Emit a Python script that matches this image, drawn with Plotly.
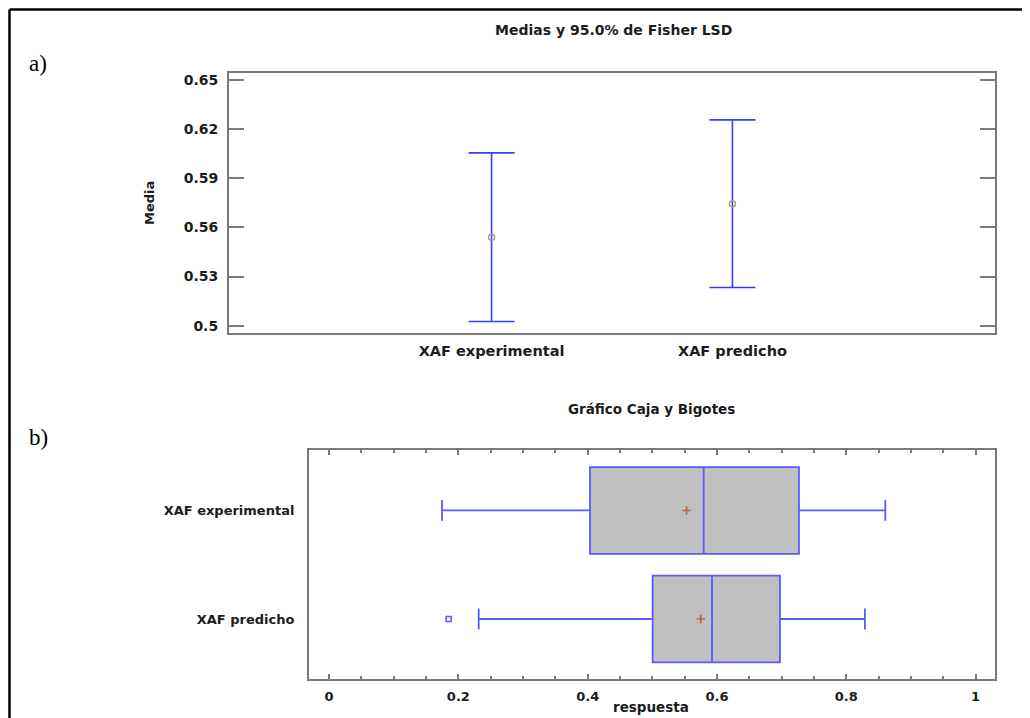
import plotly.graph_objects as go

# ---- data: panel a) Fisher LSD means ----
groups = ["XAF experimental", "XAF predicho"]
means = [0.554, 0.5745]
lsd_half = [0.0515, 0.0512]
y_ticks_a = [0.5, 0.53, 0.56, 0.59, 0.62, 0.65]
y_ticklabels_a = ["0.5", "0.53", "0.56", "0.59", "0.62", "0.65"]

# ---- data: panel b) box and whiskers ----
box_groups = ["XAF experimental", "XAF predicho"]
q1 = [0.4036, 0.5005]
median = [0.5794, 0.5923]
q3 = [0.7268, 0.6974]
lower_whisker = [0.1747, 0.2315]
upper_whisker = [0.8603, 0.8288]
box_means = [0.5529, 0.5749]
outlier_group = ["XAF predicho"]
outlier_values = [0.185]
x_ticks_b = [0, 0.2, 0.4, 0.6, 0.8, 1]
x_ticklabels_b = ["0", "0.2", "0.4", "0.6", "0.8", "1"]

FONT = "DejaVu Sans"
TXT = "#1c1c1c"
AXC = "#7a7a7a"
BLUE = "#3b3bff"
BOXBLUE = "#5a5aff"

# page has an 8px body margin; figure sized to fit the window
OFF = 8
W, H = 1022, 710
def px(x): return (x - OFF) / W
def py(y): return 1 - (y - OFF) / H

fig = go.Figure()

# panel a
fig.add_trace(go.Scatter(
    x=groups, y=means, mode="markers",
    marker=dict(symbol="circle-open", size=6, color="#a3a376", line=dict(width=1.5)),
    error_y=dict(type="data", array=lsd_half, visible=True, color=BLUE, thickness=1.6, width=23),
    xaxis="x", yaxis="y", showlegend=False, hoverinfo="x+y"))

# panel b
for g, a, m, b, lo, hi in zip(box_groups, q1, median, q3, lower_whisker, upper_whisker):
    fig.add_trace(go.Box(
        y=[g], q1=[a], median=[m], q3=[b], lowerfence=[lo], upperfence=[hi],
        orientation="h", xaxis="x2", yaxis="y2", showlegend=False,
        fillcolor="#c0c0c0", line=dict(color=BOXBLUE, width=1.8),
        whiskerwidth=0.24, width=0.8, boxpoints=False))

fig.add_trace(go.Scatter(
    x=box_means, y=box_groups, mode="markers", xaxis="x2", yaxis="y2",
    marker=dict(symbol="cross-thin", size=6, line=dict(width=1.6, color="#b5643c")),
    showlegend=False))
fig.add_trace(go.Scatter(
    x=outlier_values, y=outlier_group, mode="markers", xaxis="x2", yaxis="y2",
    marker=dict(symbol="square-open", size=5, color=BOXBLUE, line=dict(width=1.5)),
    showlegend=False))

tickfont = dict(family=FONT, size=14, color=TXT, weight="bold")
tickfont_b = dict(family=FONT, size=13, color=TXT, weight="bold")

fig.update_layout(
    width=W, height=H,
    margin=dict(l=0, r=0, t=0, b=0),
    paper_bgcolor="white", plot_bgcolor="white",
    xaxis=dict(domain=[px(229), px(995)], anchor="y", type="category",
               range=[-1.09, 2.09], showline=True, mirror=True, linecolor=AXC, linewidth=2,
               ticks="", showgrid=False, zeroline=False, tickfont=dict(family=FONT, size=14.5, color=TXT, weight="bold"),
               ticklabelstandoff=4, automargin=False, fixedrange=True),
    yaxis=dict(domain=[py(333), py(73)], anchor="x", range=[0.4955, 0.6543],
               tickvals=y_ticks_a, ticktext=y_ticklabels_a,
               showline=True, mirror="ticks", linecolor=AXC, linewidth=2,
               ticks="inside", ticklen=15, tickwidth=2, tickcolor=AXC,
               showgrid=False, zeroline=False, tickfont=tickfont,
               ticklabelstandoff=6, automargin=False),
    xaxis2=dict(domain=[px(309), px(995)], anchor="y2", range=[-0.031, 1.030],
                tickvals=x_ticks_b, ticktext=x_ticklabels_b,
                showline=True, mirror="ticks", linecolor=AXC, linewidth=2,
                ticks="inside", ticklen=5, tickwidth=1.5, tickcolor=AXC,
                minor=dict(dtick=0.05, ticks="inside", ticklen=3, tickwidth=1.5, tickcolor=AXC),
                showgrid=False, zeroline=False, tickfont=tickfont_b,
                ticklabelstandoff=4, automargin=False),
    yaxis2=dict(domain=[py(679), py(450)], anchor="x2", type="category",
                categoryorder="array", categoryarray=["XAF predicho", "XAF experimental"],
                range=[-0.553, 1.557], showline=True, mirror=True, linecolor=AXC, linewidth=2,
                ticks="", showgrid=False, zeroline=False, tickfont=tickfont_b,
                ticklabelstandoff=10, automargin=False),
    shapes=[
        dict(type="line", xref="paper", yref="paper",
             x0=px(9.5), x1=px(9.5), y0=0, y1=py(9.5),
             line=dict(color="black", width=2.5)),
        dict(type="line", xref="paper", yref="paper",
             x0=px(9.5), x1=1, y0=py(9.5), y1=py(9.5),
             line=dict(color="black", width=2.5)),
    ],
    annotations=[
        dict(text="Medias y 95.0% de Fisher LSD", x=px(613), y=py(30), xref="paper", yref="paper",
             showarrow=False, font=dict(family=FONT, size=14, color=TXT, weight="bold"),
             xanchor="center", yanchor="middle"),
        dict(text="Gráfico Caja y Bigotes", x=px(651), y=py(409), xref="paper", yref="paper",
             showarrow=False, font=dict(family=FONT, size=13.5, color=TXT, weight="bold"),
             xanchor="center", yanchor="middle"),
        dict(text="Media", x=px(149), y=py(203), xref="paper", yref="paper", textangle=-90,
             showarrow=False, font=dict(family=FONT, size=13, color=TXT, weight="bold"),
             xanchor="center", yanchor="middle"),
        dict(text="respuesta", x=px(651), y=py(707), xref="paper", yref="paper",
             showarrow=False, font=dict(family=FONT, size=13.5, color=TXT, weight="bold"),
             xanchor="center", yanchor="middle"),
        dict(text="a)", x=px(27), y=py(63), xref="paper", yref="paper",
             showarrow=False, font=dict(family="Liberation Serif", size=23, color="black"),
             xanchor="left", yanchor="middle"),
        dict(text="b)", x=px(27), y=py(437), xref="paper", yref="paper",
             showarrow=False, font=dict(family="Liberation Serif", size=23, color="black"),
             xanchor="left", yanchor="middle"),
    ],
)

fig.write_html("out.html")
